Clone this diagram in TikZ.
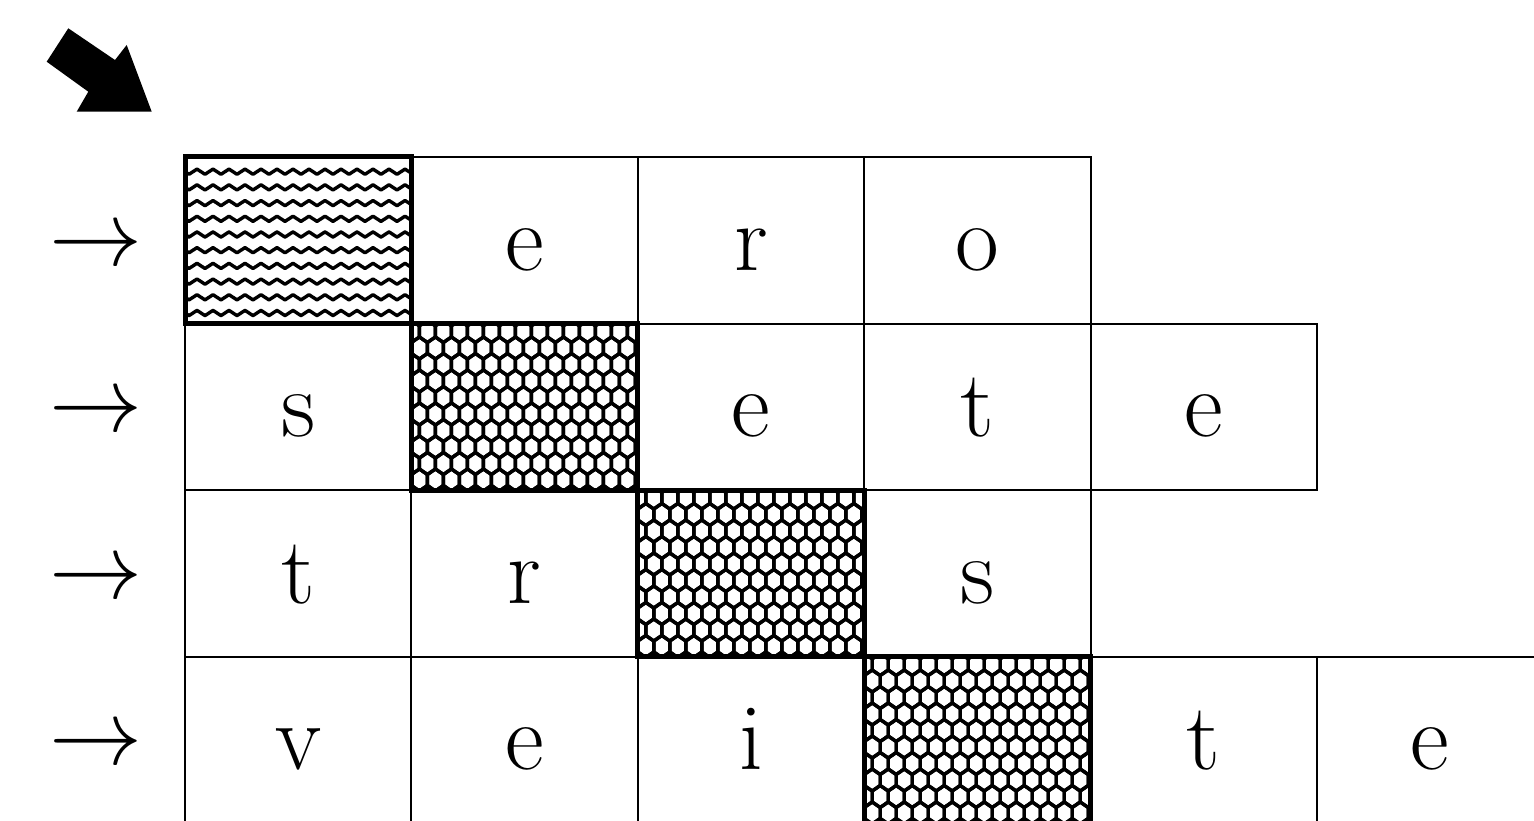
\RequirePackage{fix-cm}
\documentclass[tikz,border=0pt]{standalone}
\usepackage{fontspec}
\usetikzlibrary{decorations.pathmorphing}
\tikzset{
  cell/.style={draw, line width=2pt, minimum width=226.4pt, minimum height=166.5pt,
    inner sep=0pt, outer sep=0pt, text height=60pt, text depth=0pt,
    font=\fontsize{95}{100}\selectfont},
  rowarrow/.style={inner sep=0pt, outer sep=0pt, anchor=base west,
    font=\fontsize{93}{100}\selectfont},
  hexline/.style={line width=3.4pt, line join=round},
  waveline/.style={line width=3.4pt, line join=round, decorate,
    decoration={zigzag, segment length=16pt, amplitude=2.6pt}},
  thickcell/.style={line width=5pt, line join=miter}
}
\newcommand\myhoney[1]{%
  \begin{scope}
    \clip (#1.south west) rectangle (#1.north east);
    \begin{scope}[shift={(#1.north west)}]
      \foreach \r in {0,...,10}{
        \foreach \c in {-1,...,15}{
          \pgfmathsetmacro\cx{16*\c+8*mod(\r,2)}
          \pgfmathsetmacro\cy{8+16.5*\r}
          \draw[hexline] (\cx,\cy-11) -- (\cx+8,\cy-5.5) -- (\cx+8,\cy+5.5)
            -- (\cx,\cy+11) -- (\cx-8,\cy+5.5) -- (\cx-8,\cy-5.5) -- cycle;
        }
      }
    \end{scope}
  \end{scope}
  \draw[thickcell] (#1.south west) rectangle (#1.north east);
}
\newcommand\mywaves[1]{%
  \begin{scope}
    \clip (#1.south west) rectangle (#1.north east);
    \begin{scope}[shift={(#1.north west)}]
      \foreach \k in {0,...,9}{
        \draw[waveline] (-8,14.7+15.7*\k) -- (240,14.7+15.7*\k);
      }
    \end{scope}
  \end{scope}
  \draw[thickcell] (#1.south west) rectangle (#1.north east);
}
\begin{document}
\begin{tikzpicture}[x=1pt,y=-1pt]
\useasboundingbox (0,0) rectangle (1534,821);
% big block arrow
\fill[black] (46.7,61.7) -- (68.3,28.3) -- (115,60) -- (126.7,45)
  -- (151.7,111.7) -- (76.7,111.7) -- (88.3,91.7) -- cycle;
% cells
\foreach \r/\c/\t in {0/0/,0/1/e,0/2/r,0/3/o,
                      1/0/s,1/1/,1/2/e,1/3/t,1/4/e,
                      2/0/t,2/1/r,2/2/,2/3/s,
                      3/0/v,3/1/e,3/2/i,3/3/,3/4/t,3/5/e}{
  \node[cell] (c-\r-\c) at (185+226.4*\c+113.2, 157+166.5*\r+83.25) {\t};
}
% row arrows
\foreach \r in {0,...,3}{
  \node[rowarrow] (arr-\r) at (49.5, 157+166.5*\r+83.25+25) {$\rightarrow$};
}
% hatched diagonal cells
\mywaves{c-0-0}
\myhoney{c-1-1}
\myhoney{c-2-2}
\myhoney{c-3-3}
\end{tikzpicture}
\end{document}
